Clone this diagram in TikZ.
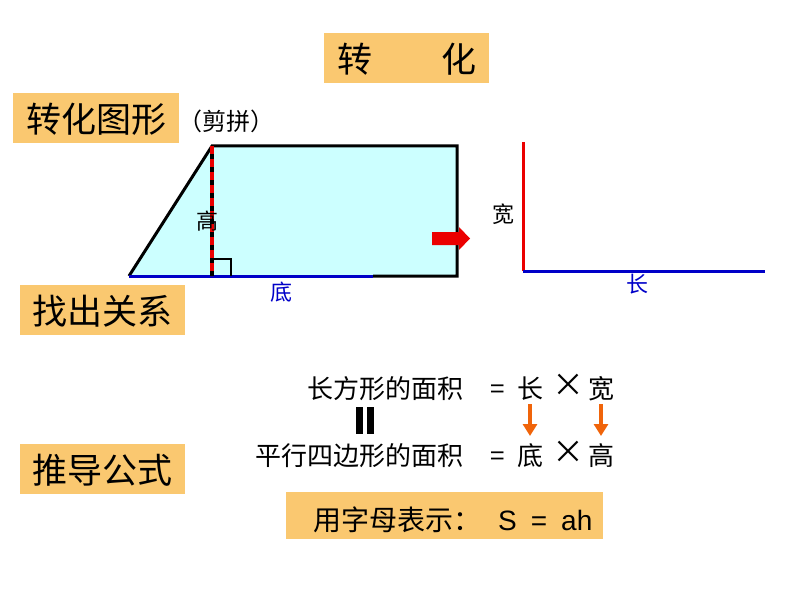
\documentclass[tikz,border=0pt]{standalone}
\usepackage{fontspec}
\newfontfamily\cjk{Noto Sans CJK SC}
\setmainfont{Liberation Sans}
\definecolor{boxor}{RGB}{250,200,112}
\definecolor{cyanfill}{RGB}{204,255,255}
\definecolor{bblue}{RGB}{0,0,200}
\definecolor{arrred}{RGB}{235,0,0}
\definecolor{arror}{RGB}{240,100,10}
\tikzset{
  tbox/.style={fill=boxor, draw=none},
  bigtxt/.style={font=\cjk\fontsize{35}{40}\selectfont, inner sep=0pt},
  midtxt/.style={font=\cjk\fontsize{26}{30}\selectfont, inner sep=0pt, anchor=base},
  smalltxt/.style={font=\cjk\fontsize{22}{26}\selectfont, inner sep=0pt},
  timestxt/.style={font=\cjk\fontsize{32}{36}\selectfont, inner sep=0pt, anchor=base},
  ordown/.style={draw=arror, line width=4pt, -{Triangle[width=14pt,length=12pt]}},
}
\usetikzlibrary{arrows.meta}
\begin{document}
\begin{tikzpicture}[x=1pt,y=-1pt]
\useasboundingbox (0,0) rectangle (794,596);
% title boxes
\fill[tbox] (324,33) rectangle (489,83);
\node[bigtxt] (t1) at (355,59) {转};
\node[bigtxt] (t2) at (459,59) {化};
\fill[tbox] (13,93) rectangle (179,143);
\node[bigtxt] (zh) at (96,119) {转化图形};
\node[font=\cjk\fontsize{24}{28}\selectfont, inner sep=0pt] (jp) at (226,121) {（剪拼）};
\fill[tbox] (20,285) rectangle (185,335);
\node[bigtxt] (zc) at (102,311) {找出关系};
\fill[tbox] (20,444) rectangle (185,494);
\node[bigtxt] (td) at (102,470) {推导公式};
% trapezoid
\coordinate (A) at (129,276);
\coordinate (B) at (212,146);
\coordinate (C) at (457,146);
\coordinate (D) at (457,276);
\coordinate (E) at (373,276);
\coordinate (H) at (212,276);
\fill[cyanfill] (A) -- (B) -- (C) -- (D) -- cycle;
\draw[line width=3pt, line join=miter] (A) -- (B) -- (C) -- (D) -- (E);
\draw[bblue, line width=3pt] (A) -- (E);
\draw[line width=1.5pt] (212,259) -| (231,276);
\draw[line width=3.5pt] (B) -- (H);
\draw[arrred, line width=3.5pt, dash pattern=on 8pt off 5pt] (B) -- (H);
\node[smalltxt] (gao) at (207,221) {高};
\node[smalltxt, text=bblue] (di) at (281,292) {底};
% red arrow
\fill[arrred] (432,232) -- (459,232) -- (459,227) -- (470,238.5) -- (459,250) -- (459,245) -- (432,245) -- cycle;
% right figure
\coordinate (R0) at (523,271);
\coordinate (R1) at (523,142);
\coordinate (R2) at (765,271);
\draw[arrred, line width=3pt] (R0) -- (R1);
\draw[bblue, line width=3pt] (R0) -- (R2);
\node[smalltxt] (kuan) at (503,214) {宽};
\node[smalltxt, text=bblue] (chang) at (637,284) {长};
% equations
\node[midtxt, anchor=base east] (e1) at (464,398) {长方形的面积};
\node[midtxt] (eq1) at (498,398) {=};
\node[midtxt] (c1) at (530,398) {长};
\node[timestxt] (x1) at (568,396) {×};
\node[midtxt] (k1) at (601,398) {宽};
\node[midtxt, anchor=base east] (e2) at (464,465) {平行四边形的面积};
\node[midtxt] (eq2) at (498,465) {=};
\node[midtxt] (c2) at (530,465) {底};
\node[timestxt] (x2) at (568,463) {×};
\node[midtxt] (k2) at (601,465) {高};
\fill (356,407) rectangle (363,434);
\fill (367,407) rectangle (374,434);
\draw[ordown] (530,404) coordinate (a1s) -- (530,436) coordinate (a1e);
\draw[ordown] (601,404) coordinate (a2s) -- (601,436) coordinate (a2e);
% formula
\fill[tbox] (286,492) rectangle (603,539);
\node[font=\cjk\fontsize{28}{32}\selectfont, inner sep=0pt, anchor=base west] (f1) at (313,530) {用字母表示：};
\node[font=\fontsize{28}{32}\selectfont, inner sep=0pt, anchor=base west] (f2) at (498,530) {S\,\,\,=\,\,\,ah};
\end{tikzpicture}
\end{document}
